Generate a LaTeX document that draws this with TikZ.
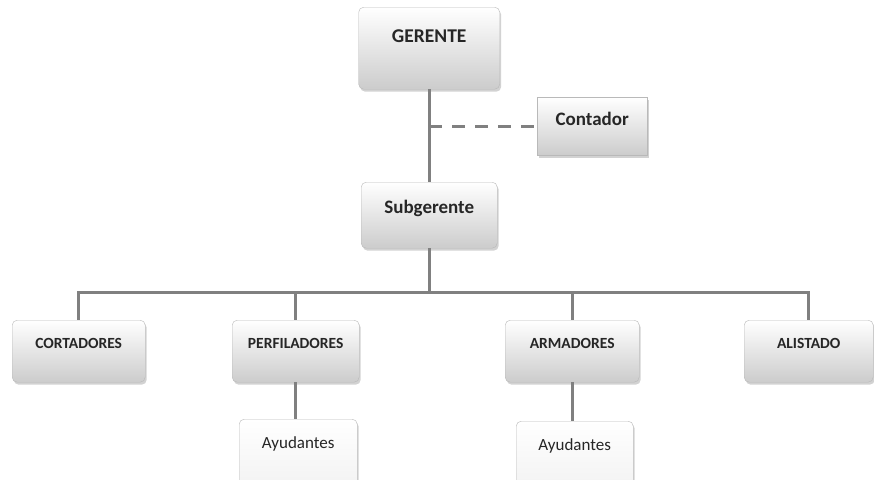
\documentclass[tikz,border=0pt]{standalone}
\usepackage{fontspec}
\setmainfont{Carlito}
\usetikzlibrary{shadows}

\tikzset{
  unit/.style={draw=gray!55, rounded corners=5pt, top color=white, bottom color=gray!40,
    drop shadow={shadow xshift=1.5pt, shadow yshift=-2.5pt, opacity=.35},
    inner sep=0pt, anchor=north west, text=black!85,
    font=\bfseries\fontsize{15.5}{18}\selectfont},
  helper/.style={unit, bottom color=gray!10, font=\fontsize{17}{20}\selectfont},
  link/.style={draw=gray, line width=3pt}
}

\begin{document}
\begin{tikzpicture}[x=1pt, y=-1pt]
\clip (0,0) rectangle (874,479);
\fill[white] (0,0) rectangle (874,479);
% cajas
\node[unit, minimum width=141pt, text height=35pt, text depth=47pt, font=\bfseries\fontsize{19.5}{22}\selectfont] (ger) at (358.5,7) {GERENTE};
\node[unit, rounded corners=0pt, minimum width=110pt, text height=28pt, text depth=30pt, font=\bfseries\fontsize{19}{22}\selectfont] (cont) at (537,97) {Contador};
\node[unit, minimum width=136pt, text height=31pt, text depth=35pt, font=\bfseries\fontsize{19}{22}\selectfont] (sub) at (361,182) {Subgerente};
\node[unit, minimum width=133pt, text height=28pt, text depth=34pt] (cort) at (12,320) {CORTADORES};
\node[unit, minimum width=127pt, text height=28pt, text depth=34pt] (perf) at (232,320) {PERFILADORES};
\node[unit, minimum width=134pt, text height=28pt, text depth=34pt] (arm) at (505,320) {ARMADORES};
\node[unit, minimum width=129pt, text height=28pt, text depth=34pt] (ali) at (744,320) {ALISTADO};
\node[helper, minimum width=118pt, text height=29pt, text depth=40pt] (ayu1) at (239,419) {Ayudantes};
\node[helper, minimum width=117pt, text height=29pt, text depth=40pt] (ayu2) at (516,421) {Ayudantes};
% lineas
\coordinate (tap) at (ger.south |- cont.west);
\path (sub.south) ++(0,44) coordinate (bus);
\draw[link] (ger.south) -- (sub.north);
\draw[link, dash pattern=on 13pt off 10pt] (tap) -- (cont.west);
\draw[link] (sub.south) -- (bus);
\foreach \n in {cort,perf,arm,ali}
  \draw[link] (bus) -| (\n.north);
\draw[link] (perf.south) -- (perf.south |- ayu1.north);
\draw[link] (arm.south) -- (arm.south |- ayu2.north);
\end{tikzpicture}
\end{document}
